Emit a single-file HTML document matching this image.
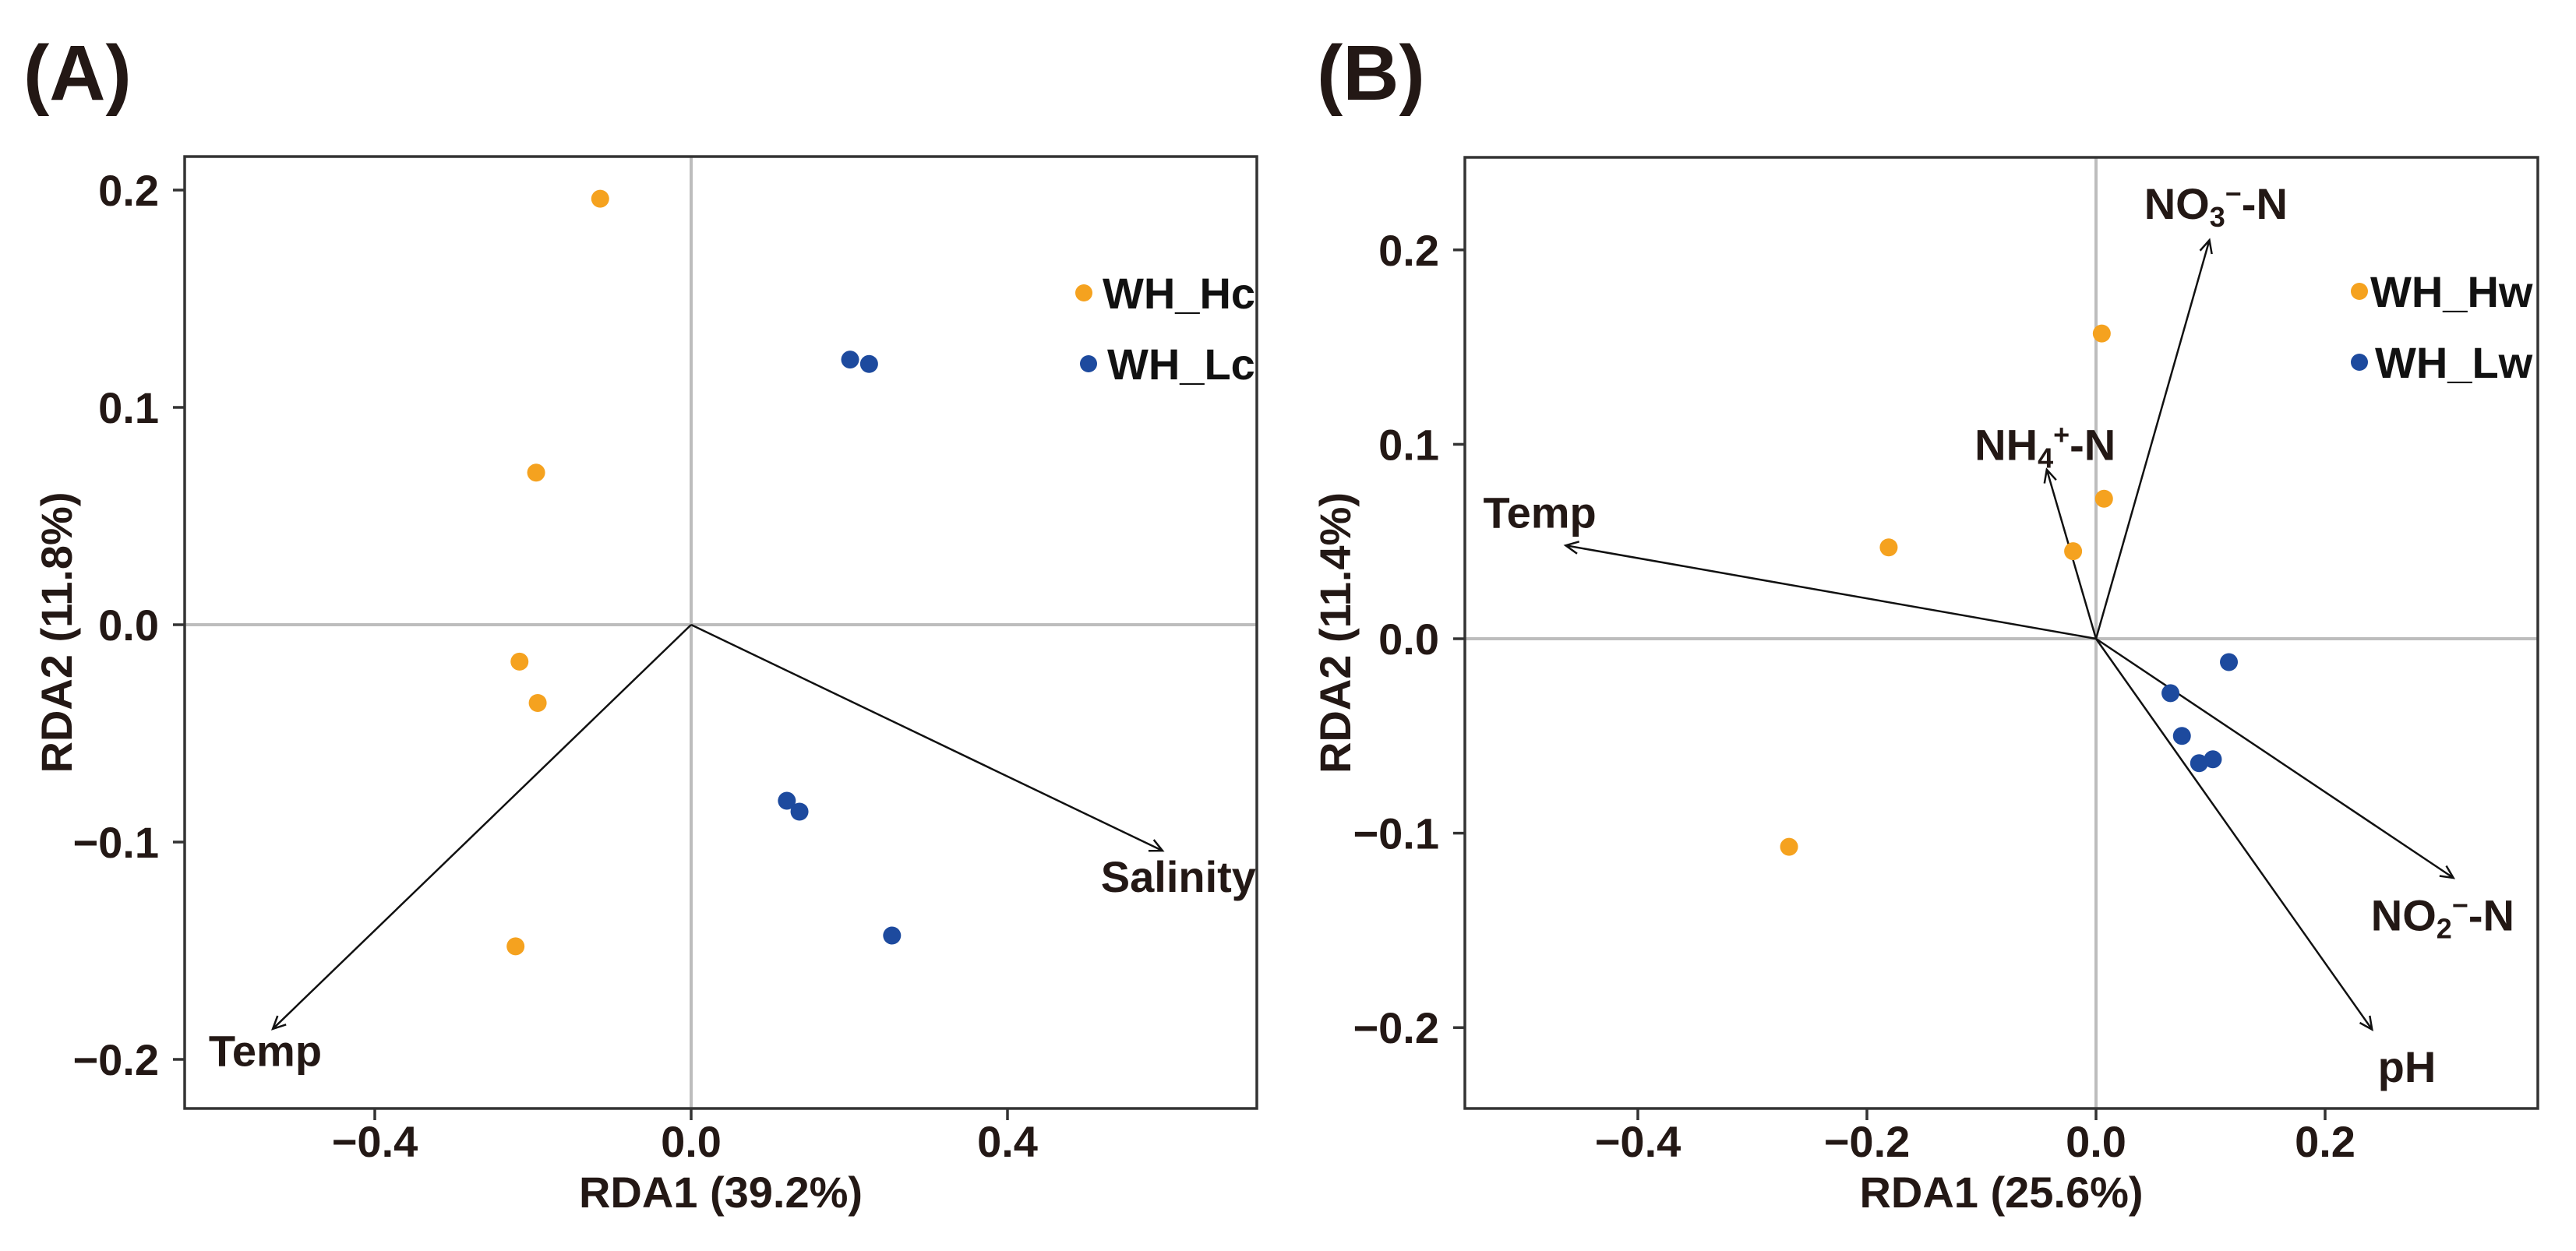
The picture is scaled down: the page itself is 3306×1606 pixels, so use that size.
<!DOCTYPE html>
<html><head><meta charset="utf-8"><style>
html,body{margin:0;padding:0;background:#fff;}
svg{display:block;font-family:"Liberation Sans",Arial,sans-serif;font-weight:bold;}
</style></head><body>
<svg id="fig" width="3306" height="1606" viewBox="0 0 3306 1606" xmlns="http://www.w3.org/2000/svg">
<text x="30" y="128" font-size="100" fill="#231815">(A)</text>
<text x="1690" y="128" font-size="100" fill="#231815">(B)</text>
<g id="pa"></g>
<g id="pb"></g>
</svg>
<script>
// Panel A data
const aHcX = [-0.115, -0.196, -0.217, -0.194, -0.222];
const aHcY = [0.196, 0.070, -0.017, -0.036, -0.148];
const aLcX = [0.201, 0.225, 0.121, 0.137, 0.254];
const aLcY = [0.122, 0.120, -0.081, -0.086, -0.143];
const aVecNames = ["Salinity", "Temp"];
const aVecX = [0.596, -0.529];
const aVecY = [-0.104, -0.186];
const aLabX = [0.518, -0.610];
const aLabY = [-0.123, -0.203];
const aXTicks = [-0.4, 0.0, 0.4];
const aXTickLabels = ["\u22120.4", "0.0", "0.4"];
const aYTicks = [0.2, 0.1, 0.0, -0.1, -0.2];
const aYTickLabels = ["0.2", "0.1", "0.0", "\u22120.1", "\u22120.2"];
const aLegend = ["WH_Hc", "WH_Lc"];
// Panel B data
const bHwX = [0.005, 0.007, -0.020, -0.181, -0.268];
const bHwY = [0.157, 0.072, 0.045, 0.047, -0.107];
const bLwX = [0.116, 0.065, 0.075, 0.090, 0.102];
const bLwY = [-0.012, -0.028, -0.050, -0.064, -0.062];
const bVecNames = ["Temp", "NO3", "NH4", "NO2", "pH"];
const bVecX = [-0.463, 0.099, -0.043, 0.312, 0.241];
const bVecY = [0.048, 0.205, 0.087, -0.123, -0.201];
const bLabX = [-0.535, 0.042, -0.106, 0.240, 0.246];
const bLabY = [0.057, 0.216, 0.092, -0.150, -0.228];
const bXTicks = [-0.4, -0.2, 0.0, 0.2];
const bXTickLabels = ["\u22120.4", "\u22120.2", "0.0", "0.2"];
const bYTicks = [0.2, 0.1, 0.0, -0.1, -0.2];
const bYTickLabels = ["0.2", "0.1", "0.0", "\u22120.1", "\u22120.2"];
const bLegend = ["WH_Hw", "WH_Lw"];

const NS = "http://www.w3.org/2000/svg";
const ORANGE = "#F5A21F", BLUE = "#1D4A9E", INK = "#231815";
function mk(tag, parent, attrs) {
  const e = document.createElementNS(NS, tag);
  for (const k in attrs) e.setAttribute(k, attrs[k]);
  parent.appendChild(e);
  return e;
}
function labelContent(t, name) {
  const sub = (s, dy) => { const ts = document.createElementNS(NS, "tspan"); ts.setAttribute("font-size", "36"); ts.setAttribute("dy", dy); ts.textContent = s; return ts; };
  const plain = (s, dy) => { const ts = document.createElementNS(NS, "tspan"); if (dy) ts.setAttribute("dy", dy); ts.textContent = s; return ts; };
  if (name === "NO3" || name === "NO2" || name === "NH4") {
    const base = name === "NH4" ? "NH" : "NO";
    const n = name.slice(2);
    const sup = name === "NH4" ? "+" : "\u2212";
    t.appendChild(plain(base));
    t.appendChild(sub(n, "10"));
    t.appendChild(sub(sup, "-30"));
    t.appendChild(plain("-N", "20"));
  } else t.textContent = name;
}
function panel(g, cfg) {
  const sx = v => cfg.x0 + v * cfg.kx;
  const sy = v => cfg.y0 - v * cfg.ky;
  // zero lines
  let l = mk("line", g, {x1: sx(0), x2: sx(0), y1: cfg.top, y2: cfg.bottom, stroke: "#bdbdbd", "stroke-width": 4});
  
  
  l = mk("line", g, {x1: cfg.left, x2: cfg.right, y1: sy(0), y2: sy(0), stroke: "#bdbdbd", "stroke-width": 4});
  
  
  // box
  const box = mk("rect", g, {x: cfg.left, y: cfg.top, width: cfg.right - cfg.left, height: cfg.bottom - cfg.top, fill: "none", stroke: "#333", "stroke-width": 3.5});
  
  
  // ticks
  cfg.xt.forEach((v, i) => {
    const t = mk("line", g, {x1: sx(v), x2: sx(v), y1: cfg.bottom, y2: cfg.bottom + 15, stroke: "#333", "stroke-width": 3.5});
    
    
    const tx = mk("text", g, {x: sx(v), y: cfg.bottom + 62, "font-size": 56, fill: INK, "text-anchor": "middle"});
    tx.textContent = cfg.xtl[i];
    
    
  });
  cfg.yt.forEach((v, i) => {
    const t = mk("line", g, {x1: cfg.left - 15, x2: cfg.left, y1: sy(v), y2: sy(v), stroke: "#333", "stroke-width": 3.5});
    
    
    const tx = mk("text", g, {x: cfg.left - 33, y: sy(v) + 20, "font-size": 56, fill: INK, "text-anchor": "end"});
    tx.textContent = cfg.ytl[i];
    
    
  });
  let at = mk("text", g, {x: (cfg.left + cfg.right) / 2, y: 1550, "font-size": 56, fill: INK, "text-anchor": "middle"});
  at.textContent = cfg.xTitle;
  
  
  at = mk("text", g, {x: 0, y: 0, "font-size": 56, fill: INK, "text-anchor": "middle", transform: `translate(${cfg.yTitleX},${(cfg.top + cfg.bottom) / 2}) rotate(-90)`});
  at.textContent = cfg.yTitle;
  
  
  // vectors
  cfg.vx.forEach((v, i) => {
    const x1 = sx(0), y1 = sy(0), x2 = sx(v), y2 = sy(cfg.vy[i]);
    const ang = Math.atan2(y2 - y1, x2 - x1);
    const ah = 18, sp = 0.45;
    const p1x = x2 - ah * Math.cos(ang - sp), p1y = y2 - ah * Math.sin(ang - sp);
    const p2x = x2 - ah * Math.cos(ang + sp), p2y = y2 - ah * Math.sin(ang + sp);
    const a = mk("path", g, {d: `M${x1},${y1}L${x2},${y2}M${p1x},${p1y}L${x2},${y2}L${p2x},${p2y}`, fill: "none", stroke: "#111", "stroke-width": 2.5});
    
    
    const t = mk("text", g, {x: sx(cfg.lx[i]), y: sy(cfg.ly[i]), "font-size": 56, fill: INK});
    labelContent(t, cfg.vn[i]);
    
    
  });
  // points
  [[cfg.s1x, cfg.s1y, ORANGE], [cfg.s2x, cfg.s2y, BLUE]].forEach(([xs, ys, c], si) => {
    xs.forEach((v, i) => {
      const p = mk("circle", g, {cx: sx(v), cy: sy(ys[i]), r: 11.5, fill: c});
      
      
    });
  });
  // legend
  cfg.leg.forEach((name, i) => {
    const c = mk("circle", g, {cx: cfg.legDotX[i], cy: cfg.legY[i], r: 11, fill: i === 0 ? ORANGE : BLUE});
    
    
    const t = mk("text", g, {x: cfg.legTextX[i], y: cfg.legY[i] + 20, "font-size": 56, fill: "#111"});
    t.textContent = name;
    
    
  });
}
panel(document.getElementById("pa"), {
  left: 237, right: 1613, top: 201, bottom: 1423, x0: 887, kx: 1015, y0: 802, ky: 2790,
  xt: aXTicks, xtl: aXTickLabels, yt: aYTicks, ytl: aYTickLabels,
  xTitle: "RDA1 (39.2%)", yTitle: "RDA2 (11.8%)", yTitleX: 92,
  vn: aVecNames, vx: aVecX, vy: aVecY, lx: aLabX, ly: aLabY,
  s1x: aHcX, s1y: aHcY, s2x: aLcX, s2y: aLcY,
  leg: aLegend, legDotX: [1391, 1397], legTextX: [1415, 1421], legY: [376, 467]
});
panel(document.getElementById("pb"), {
  left: 1880, right: 3257, top: 202, bottom: 1423, x0: 2690, kx: 1470, y0: 820, ky: 2496,
  xt: bXTicks, xtl: bXTickLabels, yt: bYTicks, ytl: bYTickLabels,
  xTitle: "RDA1 (25.6%)", yTitle: "RDA2 (11.4%)", yTitleX: 1733,
  vn: bVecNames, vx: bVecX, vy: bVecY, lx: bLabX, ly: bLabY,
  s1x: bHwX, s1y: bHwY, s2x: bLwX, s2y: bLwY,
  leg: bLegend, legDotX: [3028, 3028], legTextX: [3042, 3048], legY: [374, 465]
});
</script>
</body></html>
